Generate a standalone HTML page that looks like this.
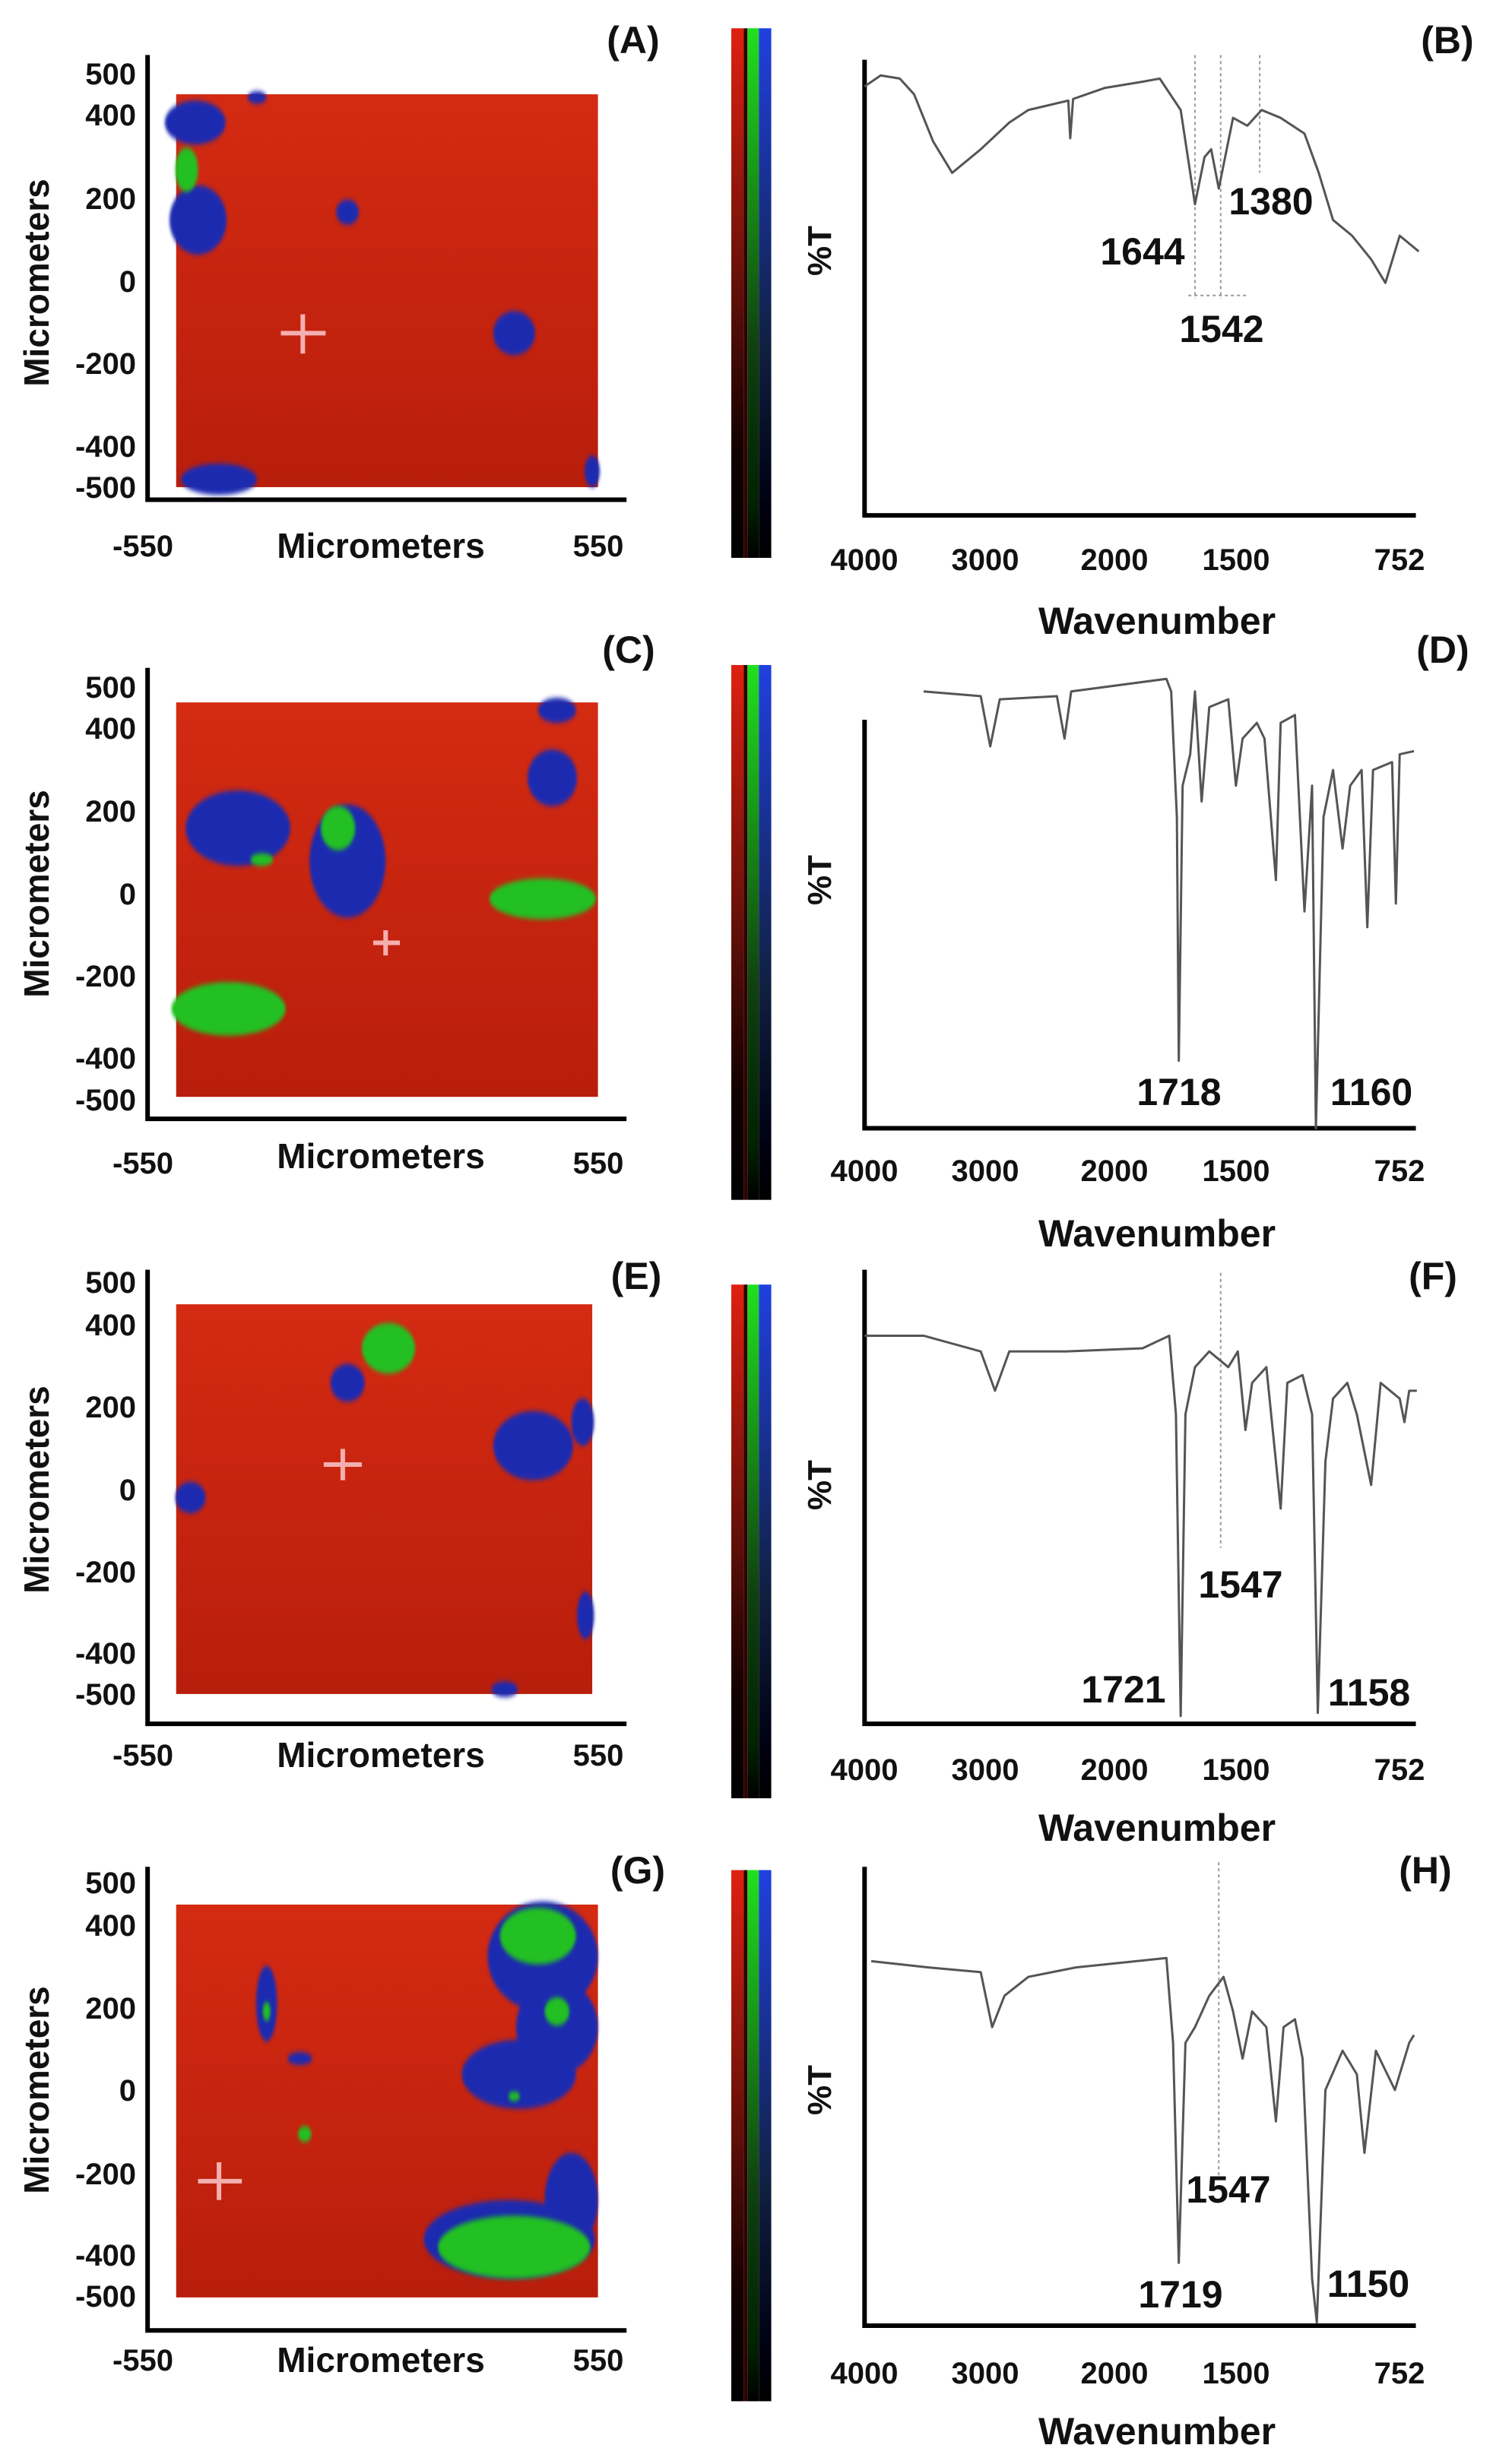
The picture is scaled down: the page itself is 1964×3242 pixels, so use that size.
<!DOCTYPE html>
<html><head><meta charset="utf-8"><style>
html,body{margin:0;padding:0;background:#fff;}
svg{display:block;}
text{font-family:"Liberation Sans",Arial,sans-serif;font-weight:bold;fill:#111;}
.ax{stroke:#000;stroke-width:6;fill:none;vector-effect:non-scaling-stroke;}
.sp{stroke:#555;stroke-width:3;fill:none;vector-effect:non-scaling-stroke;stroke-linejoin:round;}
.dt{stroke:#999;stroke-width:2;stroke-dasharray:4 4;fill:none;vector-effect:non-scaling-stroke;}
.cr{stroke:#f4b0b0;stroke-width:6;vector-effect:non-scaling-stroke;}
</style></head><body>
<svg width="1964" height="3242" viewBox="0 0 1964 3242" xmlns="http://www.w3.org/2000/svg">
<defs>
<linearGradient id="bg" x1="0" y1="0" x2="0" y2="1"><stop offset="0" stop-color="#d42a12"/><stop offset="1" stop-color="#b81e0c"/></linearGradient>
<linearGradient id="cr1" x1="0" y1="0" x2="0" y2="1"><stop offset="0" stop-color="#e02010"/><stop offset=".5" stop-color="#601008"/><stop offset=".8" stop-color="#100"/><stop offset="1" stop-color="#000"/></linearGradient>
<linearGradient id="cg1" x1="0" y1="0" x2="0" y2="1"><stop offset="0" stop-color="#20e020"/><stop offset=".6" stop-color="#104010"/><stop offset=".9" stop-color="#020"/><stop offset="1" stop-color="#000"/></linearGradient>
<linearGradient id="cb1" x1="0" y1="0" x2="0" y2="1"><stop offset="0" stop-color="#2040e0"/><stop offset=".6" stop-color="#102040"/><stop offset=".9" stop-color="#001"/><stop offset="1" stop-color="#000"/></linearGradient>
<filter id="bl" x="-20%" y="-20%" width="140%" height="140%"><feGaussianBlur stdDeviation="1.5"/></filter>
</defs>
<g transform="scale(1.25255,2.0676)">
<g id="cb"><rect x="768" y="18" width="13" height="337" fill="url(#cr1)"/><rect x="781" y="18" width="4" height="337" fill="#300"/><rect x="785" y="18" width="12" height="337" fill="url(#cg1)"/><rect x="797" y="18" width="13" height="337" fill="url(#cb1)"/></g>
<use href="#cb" transform="translate(0,405) scale(1,1.01)"/>
<use href="#cb" transform="translate(0,800) scale(1,0.97)"/>
<use href="#cb" transform="translate(0,1172) scale(1,1.003)"/>

<rect x="185" y="60" width="443" height="250" fill="url(#bg)"/>
<g fill="#1a2ab0" filter="url(#bl)">
<ellipse cx="205" cy="78" rx="32" ry="14"/><ellipse cx="208" cy="140" rx="30" ry="22"/><ellipse cx="365" cy="135" rx="12" ry="8"/><ellipse cx="540" cy="212" rx="22" ry="14"/><ellipse cx="230" cy="305" rx="40" ry="10"/><ellipse cx="622" cy="300" rx="8" ry="10"/><ellipse cx="270" cy="62" rx="10" ry="4"/></g>
<ellipse cx="196" cy="108" rx="12" ry="14" fill="#20c020" filter="url(#bl)"/>
<line class="cr" x1="295" y1="212" x2="342" y2="212"/><line class="cr" x1="318" y1="200" x2="318" y2="225"/>

<rect x="185" y="447" width="443" height="251" fill="url(#bg)"/>
<g fill="#1a2ab0" filter="url(#bl)">
<ellipse cx="250" cy="527" rx="55" ry="24"/><ellipse cx="365" cy="548" rx="40" ry="36"/><ellipse cx="580" cy="495" rx="26" ry="18"/><ellipse cx="585" cy="452" rx="20" ry="8"/></g>
<g fill="#20c020" filter="url(#bl)">
<ellipse cx="275" cy="547" rx="12" ry="4"/><ellipse cx="355" cy="527" rx="18" ry="14"/><ellipse cx="570" cy="572" rx="56" ry="13"/><ellipse cx="240" cy="642" rx="60" ry="17"/></g>
<line class="cr" x1="392" y1="600" x2="420" y2="600"/><line class="cr" x1="405" y1="592" x2="405" y2="608"/>

<rect x="185" y="830" width="437" height="248" fill="url(#bg)"/>
<g fill="#1a2ab0" filter="url(#bl)">
<ellipse cx="365" cy="880" rx="18" ry="12"/><ellipse cx="560" cy="920" rx="42" ry="22"/><ellipse cx="612" cy="905" rx="12" ry="15"/><ellipse cx="615" cy="1028" rx="9" ry="15"/><ellipse cx="200" cy="953" rx="16" ry="10"/><ellipse cx="530" cy="1075" rx="14" ry="5"/></g>
<ellipse cx="408" cy="858" rx="28" ry="16" fill="#20c020" filter="url(#bl)"/>
<line class="cr" x1="340" y1="932" x2="380" y2="932"/><line class="cr" x1="360" y1="922" x2="360" y2="942"/>

<rect x="185" y="1212" width="443" height="250" fill="url(#bg)"/>
<g fill="#1a2ab0" filter="url(#bl)">
<ellipse cx="570" cy="1245" rx="58" ry="35"/><ellipse cx="585" cy="1290" rx="43" ry="30"/><ellipse cx="545" cy="1320" rx="60" ry="22"/><ellipse cx="600" cy="1400" rx="28" ry="30"/><ellipse cx="535" cy="1425" rx="90" ry="25"/><ellipse cx="280" cy="1275" rx="11" ry="24"/><ellipse cx="315" cy="1310" rx="13" ry="4"/></g>
<g fill="#20c020" filter="url(#bl)">
<ellipse cx="565" cy="1232" rx="40" ry="18"/><ellipse cx="585" cy="1280" rx="13" ry="9"/><ellipse cx="540" cy="1430" rx="80" ry="20"/><ellipse cx="280" cy="1280" rx="4" ry="6"/><ellipse cx="320" cy="1358" rx="7" ry="5"/><ellipse cx="540" cy="1334" rx="6" ry="3"/></g>
<line class="cr" x1="208" y1="1388" x2="254" y2="1388"/><line class="cr" x1="230" y1="1376" x2="230" y2="1400"/>

<path class="ax" d="M155 35V318H658M155 425V712H658M155 808V1097H658M155 1188V1483H658"/>
<path class="ax" d="M908 38V328H1487M908 458V718H1487M908 808V1097H1487M908 1188V1480H1487"/>

<path class="dt" d="M1255 35V190M1282 35V190M1323 35V110M1248 188H1310M1282 810V985M1280 1185V1385"/>
<path class="sp" d="M908 55L925 48L945 50L960 60L980 90L1000 110L1030 95L1060 78L1080 70L1122 64L1124 88L1127 63L1160 56L1200 52L1218 50L1240 70L1255 130L1265 100L1272 95L1280 120L1295 75L1310 80L1325 70L1345 75L1370 85L1385 110L1400 140L1420 150L1440 165L1455 180L1470 150L1490 160"/>
<path class="sp" d="M970 440L1030 443L1040 475L1050 445L1110 443L1118 470L1125 440L1225 432L1230 440L1236 520L1238 675L1242 500L1250 480L1255 440L1262 510L1270 450L1290 445L1298 500L1305 470L1320 460L1328 470L1340 560L1345 460L1360 455L1370 580L1378 500L1382 718L1390 520L1400 490L1410 540L1418 500L1430 490L1436 590L1442 490L1462 485L1466 575L1470 480L1485 478"/>
<path class="sp" d="M908 850L970 850L1030 860L1045 885L1060 860L1120 860L1200 858L1228 850L1235 900L1240 1092L1245 900L1255 870L1270 860L1290 870L1300 860L1308 910L1315 880L1330 870L1345 960L1352 880L1368 875L1378 900L1384 1090L1392 930L1400 890L1415 880L1425 900L1440 945L1450 880L1470 890L1475 905L1480 885L1488 885"/>
<path class="sp" d="M915 1248L975 1252L1030 1255L1042 1290L1055 1270L1080 1258L1130 1252L1225 1246L1232 1300L1238 1440L1245 1300L1255 1290L1270 1270L1285 1258L1295 1280L1305 1310L1315 1280L1330 1290L1340 1350L1348 1290L1360 1285L1368 1310L1378 1450L1383 1478L1392 1330L1410 1305L1425 1320L1433 1370L1445 1305L1465 1330L1480 1300L1485 1295"/>
</g>

<g font-size="40" text-anchor="end">
<text x="179" y="111">500</text><text x="179" y="165">400</text><text x="179" y="275">200</text><text x="179" y="384">0</text><text x="179" y="492">-200</text><text x="179" y="601">-400</text><text x="179" y="655">-500</text>
<text x="179" y="918">500</text><text x="179" y="972">400</text><text x="179" y="1081">200</text><text x="179" y="1190">0</text><text x="179" y="1298">-200</text><text x="179" y="1406">-400</text><text x="179" y="1461">-500</text>
<text x="179" y="1701">500</text><text x="179" y="1757">400</text><text x="179" y="1865">200</text><text x="179" y="1974">0</text><text x="179" y="2082">-200</text><text x="179" y="2189">-400</text><text x="179" y="2243">-500</text>
<text x="179" y="2491">500</text><text x="179" y="2547">400</text><text x="179" y="2656">200</text><text x="179" y="2764">0</text><text x="179" y="2874">-200</text><text x="179" y="2981">-400</text><text x="179" y="3035">-500</text>
</g>
<g font-size="40" text-anchor="middle">
<text x="188" y="732">-550</text><text x="787" y="732">550</text>
<text x="188" y="1544">-550</text><text x="787" y="1544">550</text>
<text x="188" y="2323">-550</text><text x="787" y="2323">550</text>
<text x="188" y="3119">-550</text><text x="787" y="3119">550</text>
<text x="1137" y="750">4000</text><text x="1296" y="750">3000</text><text x="1466" y="750">2000</text><text x="1626" y="750">1500</text><text x="1841" y="750">752</text>
<text x="1137" y="1554">4000</text><text x="1296" y="1554">3000</text><text x="1466" y="1554">2000</text><text x="1626" y="1554">1500</text><text x="1841" y="1554">752</text>
<text x="1137" y="2342">4000</text><text x="1296" y="2342">3000</text><text x="1466" y="2342">2000</text><text x="1626" y="2342">1500</text><text x="1841" y="2342">752</text>
<text x="1137" y="3136">4000</text><text x="1296" y="3136">3000</text><text x="1466" y="3136">2000</text><text x="1626" y="3136">1500</text><text x="1841" y="3136">752</text>
</g>
<g font-size="46" text-anchor="middle">
<text x="501" y="734">Micrometers</text><text x="501" y="1537">Micrometers</text><text x="501" y="2325">Micrometers</text><text x="501" y="3121">Micrometers</text>
<text transform="translate(64,372) rotate(-90)">Micrometers</text>
<text transform="translate(64,1176) rotate(-90)">Micrometers</text>
<text transform="translate(64,1960) rotate(-90)">Micrometers</text>
<text transform="translate(64,2750) rotate(-90)">Micrometers</text>
<text transform="translate(1093,330) rotate(-90)" font-size="44">%T</text>
<text transform="translate(1093,1158) rotate(-90)" font-size="44">%T</text>
<text transform="translate(1093,1954) rotate(-90)" font-size="44">%T</text>
<text transform="translate(1093,2750) rotate(-90)" font-size="44">%T</text>
</g>
<g font-size="50" text-anchor="middle">
<text x="1522" y="834">Wavenumber</text><text x="1522" y="1640">Wavenumber</text><text x="1522" y="2422">Wavenumber</text><text x="1522" y="3216">Wavenumber</text>
<text x="833" y="70">(A)</text><text x="1904" y="70">(B)</text>
<text x="827" y="872">(C)</text><text x="1898" y="872">(D)</text>
<text x="837" y="1696">(E)</text><text x="1885" y="1696">(F)</text>
<text x="839" y="2478">(G)</text><text x="1875" y="2478">(H)</text>
</g>
<g font-size="50" text-anchor="middle">
<text x="1503" y="348">1644</text><text x="1672" y="282">1380</text><text x="1607" y="450">1542</text>
<text x="1551" y="1454">1718</text><text x="1804" y="1454">1160</text>
<text x="1632" y="2102">1547</text><text x="1478" y="2240">1721</text><text x="1801" y="2244">1158</text>
<text x="1616" y="2898">1547</text><text x="1553" y="3036">1719</text><text x="1800" y="3022">1150</text>
</g>
</svg>
</body></html>
